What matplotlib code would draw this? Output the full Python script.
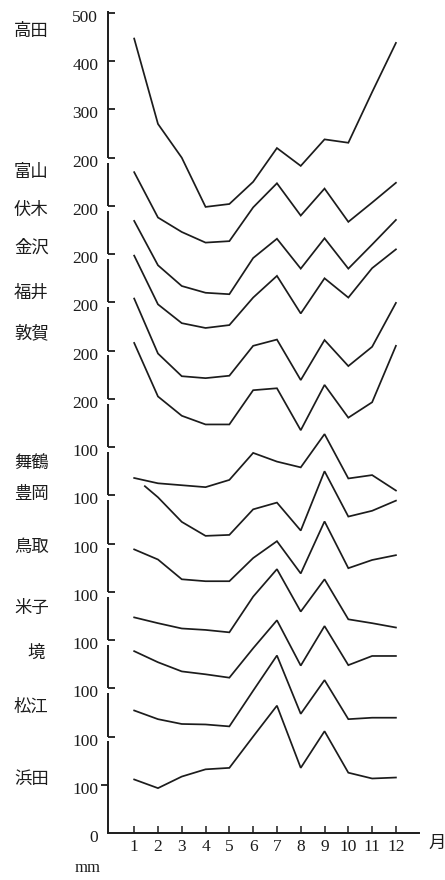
import matplotlib

matplotlib.use("Agg")
import matplotlib.lines as mlines  # noqa: E402
import matplotlib.pyplot as plt  # noqa: E402
import matplotlib.transforms as mtransforms  # noqa: E402
import numpy as np  # noqa: E402

plt.rcParams["font.family"] = ["Liberation Serif", "DejaVu Serif"]
JP = ["Noto Sans CJK JP", "DejaVu Sans"]
INK = "#1c1c1c"

months = list(range(1, 13))
stations = ["高田", "富山", "伏木", "金沢", "福井", "敦賀", "舞鶴",
            "豊岡", "鳥取", "米子", "境", "松江", "浜田"]

# monthly precipitation (mm), Jan..Dec
takada = [447, 270, 200, 98, 104, 150, 220, 183, 238, 231, 336, 438]
toyama = [270, 176, 146, 124, 127, 197, 247, 180, 236, 167, 207, 248]
fushiki = [269, 177, 134, 120, 117, 192, 232, 170, 233, 170, 220, 271]
kanazawa = [297, 196, 157, 147, 153, 210, 255, 177, 250, 210, 271, 310]
fukui = [308, 194, 147, 143, 148, 210, 223, 139, 222, 168, 208, 299]
tsuruga = [316, 205, 165, 147, 147, 218, 222, 135, 229, 161, 193, 310]
maizuru = [136, 125, 121, 117, 132, 188, 170, 158, 227, 135, 142, 110]
toyooka = [219, 196, 145, 116, 118, 171, 185, 127, 250, 156, 168, 189]
tottori = [188, 167, 126, 122, 122, 170, 205, 138, 246, 149, 166, 176]
yonago = [147, 135, 124, 121, 116, 190, 247, 159, 226, 143, 135, 126]
sakai = [177, 154, 135, 129, 122, 183, 241, 147, 229, 148, 167, 167]
matsue = [154, 136, 126, 125, 121, 195, 268, 147, 217, 136, 139, 139]
hamada = [111, 93, 117, 132, 135, 200, 264, 135, 211, 125, 113, 115]

series = [takada, toyama, fushiki, kanazawa, fukui, tsuruga, maizuru,
          toyooka, tottori, yonago, sakai, matsue, hamada]

# scale labels printed along the stacked axis, bottom to top
ytick_labels = ["0"] + ["100"] * 8 + ["200"] * 6 + ["300", "400", "500"]

fig = plt.figure(figsize=(4.45, 8.8), dpi=100)
ax = fig.add_axes([108 / 445, 47 / 880, 311 / 445, 820 / 880])
ax.set_xlim(-0.1, 12.97)
ax.set_ylim(0, 1700)

# each station sits 100 units above the next one down
n = len(stations)
for i, vals in enumerate(series):
    base = 100 * (n - 1 - i)
    x = list(months)
    if stations[i] == "豊岡":
        x[0] = 1.45  # line starts short of January to clear 舞鶴
    ax.plot(x, np.array(vals) + base, color=INK, lw=1.25, solid_joinstyle="miter")

# broken vertical axis: one piece per station band
trans_y = mtransforms.blended_transform_factory(ax.transAxes, ax.transData)
pieces = [(1400, 1700)] + [(k * 100, (k + 1) * 100 - 10) for k in range(13, 1, -1)] + [(0, 190)]
for lo, hi in pieces:
    ax.plot([0, 0], [lo, hi + 4 if hi == 1700 else hi], color=INK, lw=1.4,
            transform=trans_y, clip_on=False, solid_capstyle="butt")

ax.spines[["top", "right", "left"]].set_visible(False)
ax.spines["bottom"].set_linewidth(1.4)
ax.spines["bottom"].set_color(INK)

ax.set_xticks(months)
ax.set_xticklabels([str(m) for m in months], fontsize=12.5)
ax.tick_params(axis="x", direction="in", length=5, width=1.1, pad=4, colors=INK)

ax.set_yticks(np.arange(0, 1800, 100))
ax.set_yticklabels(ytick_labels, fontsize=12.5)
ax.tick_params(axis="y", direction="in", length=5, width=1.3, pad=7, colors=INK)
yticks = ax.yaxis.get_major_ticks()
yticks[0].tick1line.set_visible(False)
yticks[1].tick1line.set_marker(mlines.TICKLEFT)
shift = mtransforms.ScaledTranslation(0, -3 / 100, fig.dpi_scale_trans)
for lab in ax.get_yticklabels():
    lab.set_transform(lab.get_transform() + shift)

# station names down the left margin
label_y = [1662, 1370, 1291, 1213, 1119, 1036, 767, 703, 593, 466, 373, 261, 112]
trans_lab = mtransforms.blended_transform_factory(fig.transFigure, ax.transData)
for name, y in zip(stations, label_y):
    x0 = 27 / 445 if len(name) == 1 else 14 / 445
    ax.text(x0, y, name, transform=trans_lab, ha="left", va="center",
            fontsize=12.5, family=JP, color=INK, clip_on=False)

fig.text(437 / 445, 1 - 843 / 880, "月", ha="center", va="center", fontsize=12.5,
         family=JP, color=INK)
fig.text(88 / 445, 1 - 868 / 880, "mm", ha="center", va="center", fontsize=12,
         color=INK)

fig.savefig("out.png", dpi=100)
